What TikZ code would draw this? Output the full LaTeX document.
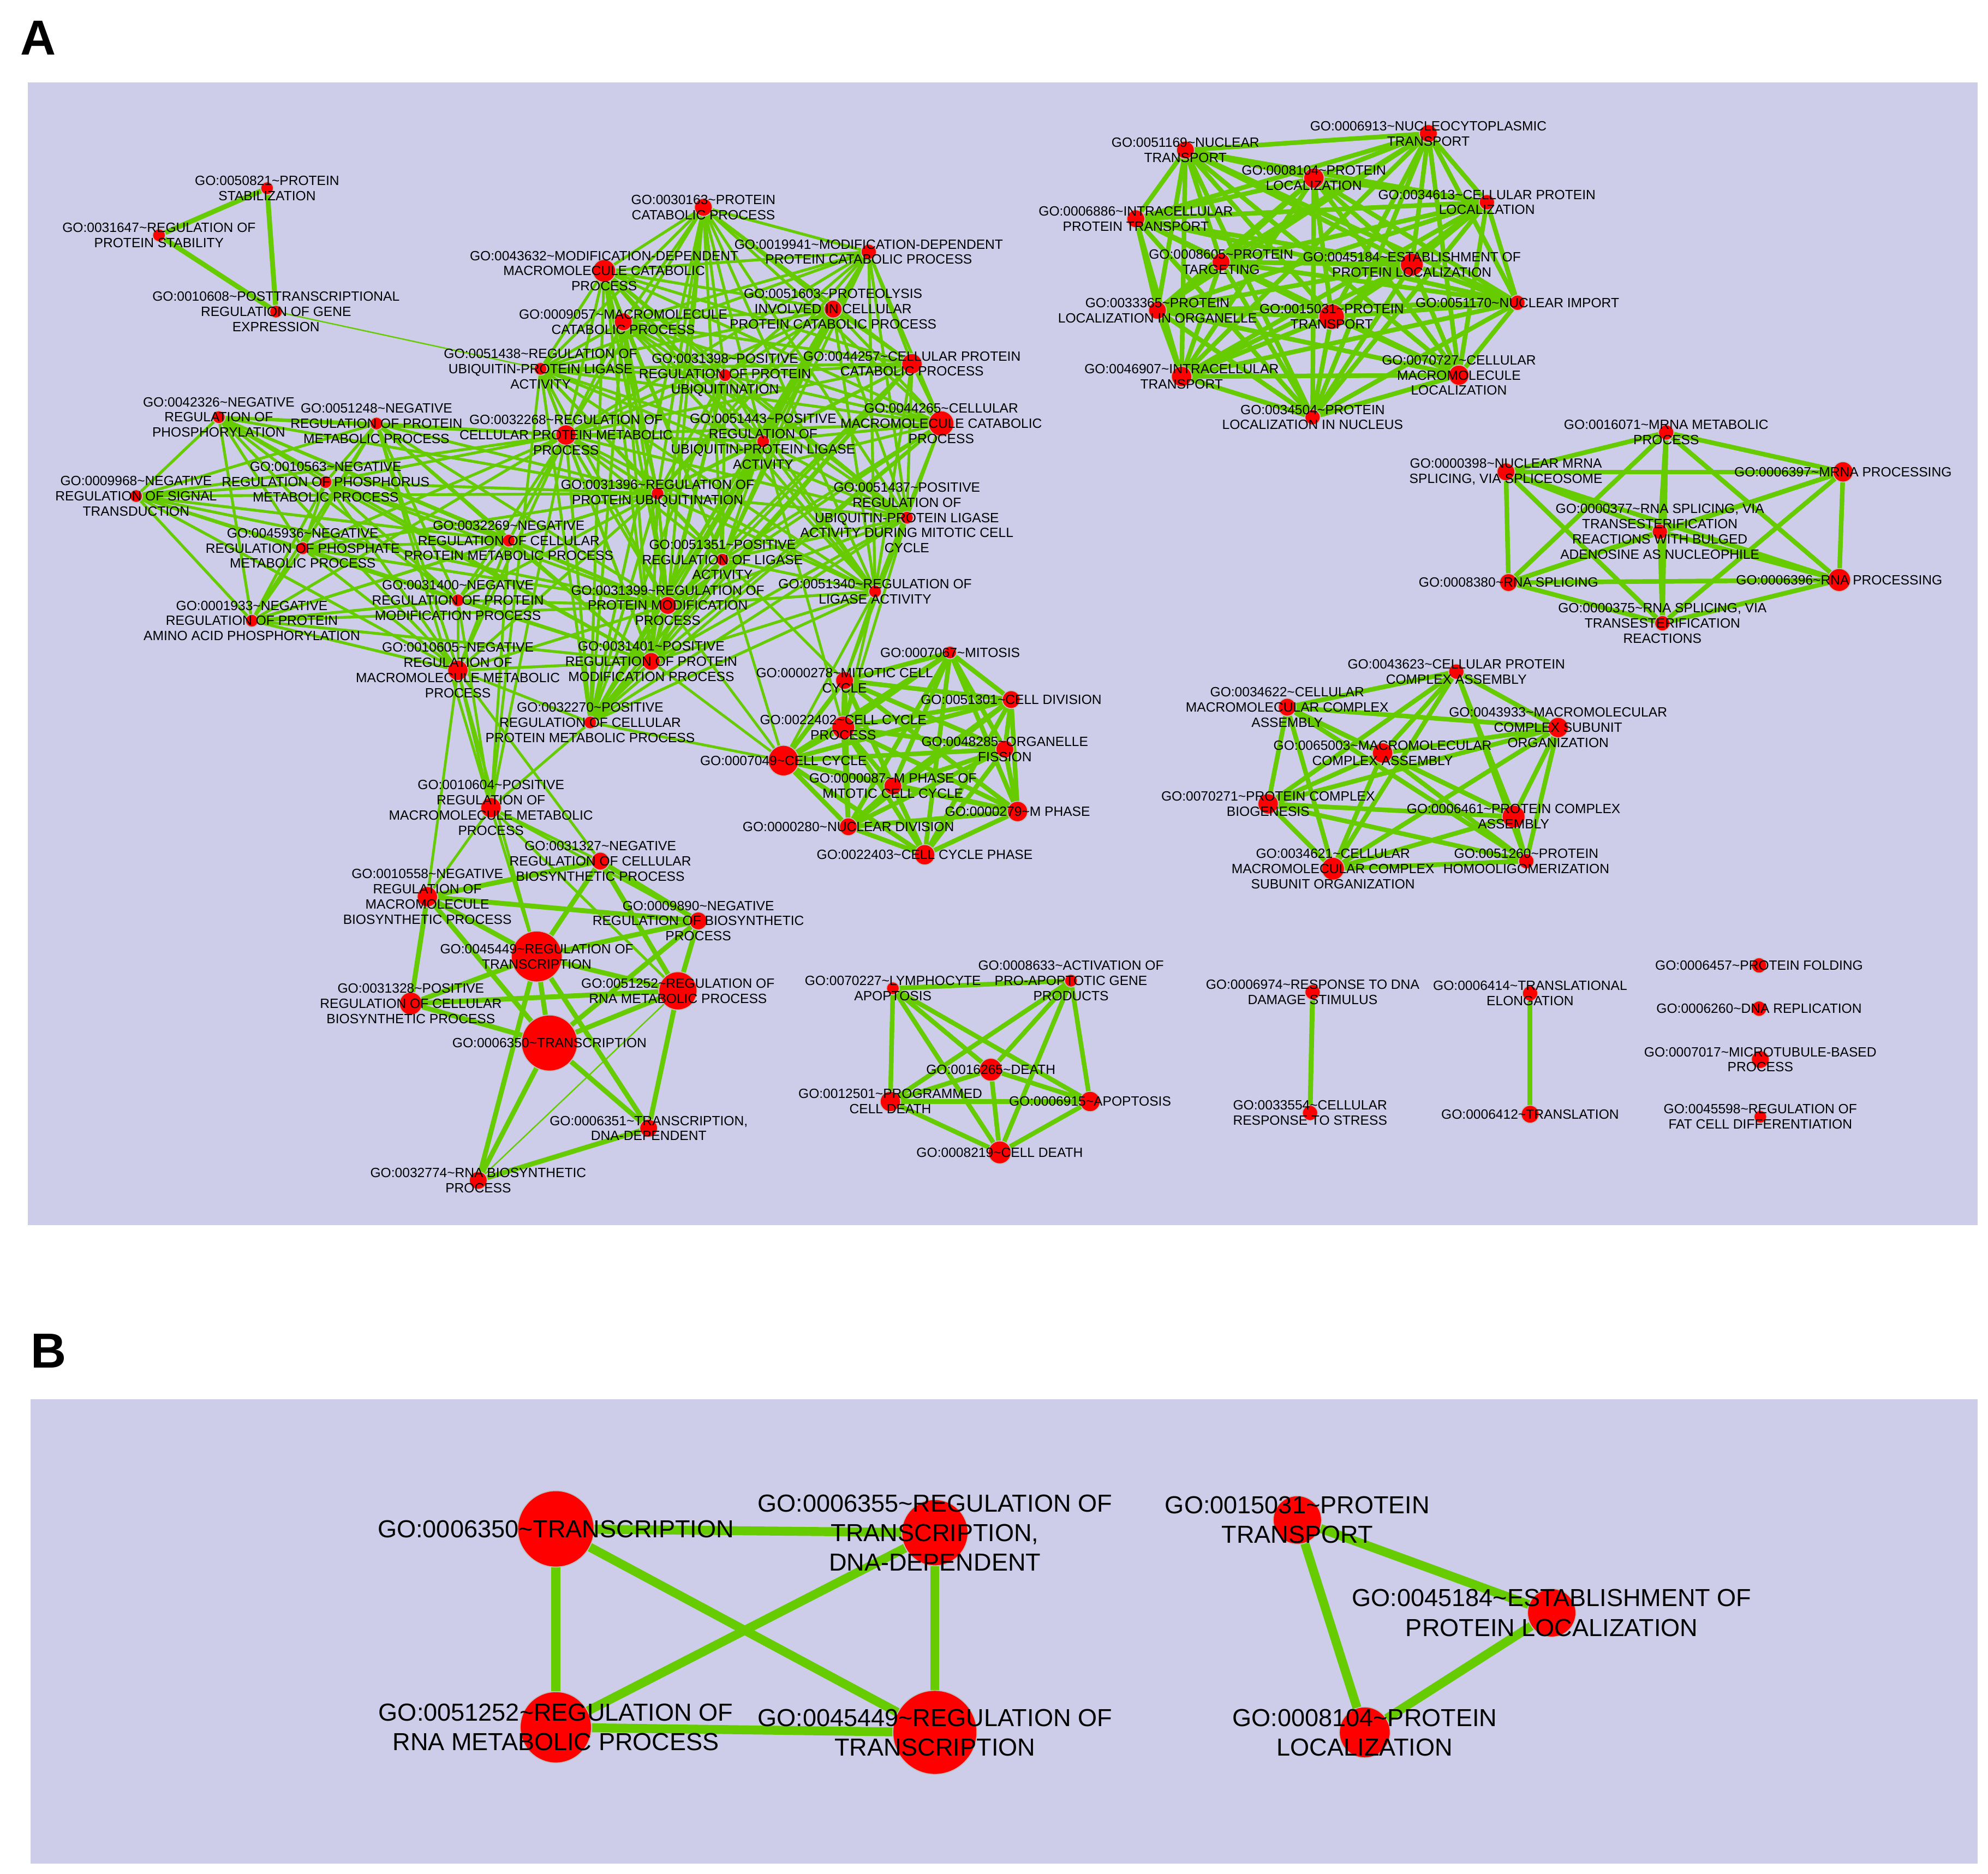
\documentclass[tikz,border=0pt]{standalone}
\usepackage{fontspec}
\setmainfont{Liberation Sans}
\definecolor{panelbg}{RGB}{205,205,234}
\definecolor{edgegreen}{RGB}{102,204,0}
\pgfdeclarelayer{bg}
\pgfdeclarelayer{edges}
\pgfsetlayers{bg,edges,main}
% one GO term: dot plus its centred label
\newcommand\gonode[5][10]{%
  \node[go, minimum size=#1*0.01cm] (#2) at (#3) {};
  \node[lbl] at (#2) {GO:#4\textasciitilde #5};}
\newcommand\gobig[5][56]{%
  \node[go, minimum size=#1*0.01cm] (#2) at (#3) {};
  \node[biglbl] at (#2) {GO:#4\textasciitilde #5};}
\newcommand\clique[1]{%
  \foreach \u in {#1}{\foreach \v in {#1}{\draw[edge] (\u) -- (\v);}}}
\begin{document}
\begin{tikzpicture}[
    x=0.01cm, y=-0.01cm,
    go/.style={circle, fill=red, draw=black!25, line width=0.2pt, inner sep=0pt},
    lbl/.style={font=\fontsize{3.0}{3.4}\selectfont, align=center, inner sep=0pt},
    biglbl/.style={font=\fontsize{5.5}{6.6}\selectfont, align=center, inner sep=0pt},
    edge/.style={draw=edgegreen, line width=0.6pt},
    thin edge/.style={draw=edgegreen, line width=0.3pt},
    bold edge/.style={draw=edgegreen, line width=1.1pt},
    huge edge/.style={draw=edgegreen, line width=2pt},
    panel/.style={fill=panelbg, draw=none},
    letter/.style={font=\bfseries\fontsize{11}{12}\selectfont}
  ]
  \useasboundingbox (0,0) rectangle (1563,1473);
  \begin{pgfonlayer}{bg}
    \fill[white] (0,0) rectangle (1563,1473);
    \path[panel] (22,65) rectangle (1555,963);
    \path[panel] (24,1100) rectangle (1555,1465);
  \end{pgfonlayer}
  \node[letter] (pA) at (30,30) {A};
  \node[letter] (pB) at (38,1062) {B};

  % ---- panel A: stability
  \gonode{a1}{210,148}{0050821}{PROTEIN\\STABILIZATION}
  \gonode{a2}{125,185}{0031647}{REGULATION OF\\PROTEIN STABILITY}
  \gonode{a3}{217,245}{0010608}{POSTTRANSCRIPTIONAL\\REGULATION OF GENE\\EXPRESSION}

  % ---- panel A: main cluster
  \gonode[14]{m1}{553,163}{0030163}{PROTEIN\\CATABOLIC PROCESS}
  \gonode[18]{m2}{475,213}{0043632}{MODIFICATION-DEPENDENT\\MACROMOLECULE CATABOLIC\\PROCESS}
  \gonode[12]{m3}{683,198}{0019941}{MODIFICATION-DEPENDENT\\PROTEIN CATABOLIC PROCESS}
  \gonode[14]{m4}{490,253}{0009057}{MACROMOLECULE\\CATABOLIC PROCESS}
  \gonode[14]{m5}{655,243}{0051603}{PROTEOLYSIS\\INVOLVED IN CELLULAR\\PROTEIN CATABOLIC PROCESS}
  \gonode{m6}{425,290}{0051438}{REGULATION OF\\UBIQUITIN-PROTEIN LIGASE\\ACTIVITY}
  \gonode{m7}{570,295}{0031398}{POSITIVE\\REGULATION OF PROTEIN\\UBIQUITINATION}
  \gonode[16]{m8}{717,286}{0044257}{CELLULAR PROTEIN\\CATABOLIC PROCESS}
  \gonode{m9}{172,328}{0042326}{NEGATIVE\\REGULATION OF\\PHOSPHORYLATION}
  \gonode{m10}{296,333}{0051248}{NEGATIVE\\REGULATION OF PROTEIN\\METABOLIC PROCESS}
  \gonode[16]{m11}{445,342}{0032268}{REGULATION OF\\CELLULAR PROTEIN METABOLIC\\PROCESS}
  \gonode{m12}{600,347}{0051443}{POSITIVE\\REGULATION OF\\UBIQUITIN-PROTEIN LIGASE\\ACTIVITY}
  \gonode[20]{m13}{740,333}{0044265}{CELLULAR\\MACROMOLECULE CATABOLIC\\PROCESS}
  \gonode{m14}{107,390}{0009968}{NEGATIVE\\REGULATION OF SIGNAL\\TRANSDUCTION}
  \gonode{m15}{256,379}{0010563}{NEGATIVE\\REGULATION OF PHOSPHORUS\\METABOLIC PROCESS}
  \gonode{m16}{517,388}{0031396}{REGULATION OF\\PROTEIN UBIQUITINATION}
  \gonode{m17}{713,407}{0051437}{POSITIVE\\REGULATION OF\\UBIQUITIN-PROTEIN LIGASE\\ACTIVITY DURING MITOTIC CELL\\CYCLE}
  \gonode{m18}{238,431}{0045936}{NEGATIVE\\REGULATION OF PHOSPHATE\\METABOLIC PROCESS}
  \gonode{m19}{400,425}{0032269}{NEGATIVE\\REGULATION OF CELLULAR\\PROTEIN METABOLIC PROCESS}
  \gonode{m20}{568,440}{0051351}{POSITIVE\\REGULATION OF LIGASE\\ACTIVITY}
  \gonode{m21}{198,488}{0001933}{NEGATIVE\\REGULATION OF PROTEIN\\AMINO ACID PHOSPHORYLATION}
  \gonode{m22}{360,472}{0031400}{NEGATIVE\\REGULATION OF PROTEIN\\MODIFICATION PROCESS}
  \gonode[14]{m23}{525,476}{0031399}{REGULATION OF\\PROTEIN MODIFICATION\\PROCESS}
  \gonode{m24}{688,465}{0051340}{REGULATION OF\\LIGASE ACTIVITY}
  \gonode[16]{m25}{360,527}{0010605}{NEGATIVE\\REGULATION OF\\MACROMOLECULE METABOLIC\\PROCESS}
  \gonode[14]{m26}{512,520}{0031401}{POSITIVE\\REGULATION OF PROTEIN\\MODIFICATION PROCESS}
  \gonode{m27}{464,568}{0032270}{POSITIVE\\REGULATION OF CELLULAR\\PROTEIN METABOLIC PROCESS}
  \gonode[16]{m28}{386,635}{0010604}{POSITIVE\\REGULATION OF\\MACROMOLECULE METABOLIC\\PROCESS}

  % ---- panel A: transcription
  \gonode[14]{t1}{472,677}{0031327}{NEGATIVE\\REGULATION OF CELLULAR\\BIOSYNTHETIC PROCESS}
  \gonode[16]{t2}{336,705}{0010558}{NEGATIVE\\REGULATION OF\\MACROMOLECULE\\BIOSYNTHETIC PROCESS}
  \gonode[14]{t3}{549,724}{0009890}{NEGATIVE\\REGULATION OF BIOSYNTHETIC\\PROCESS}
  \gonode[40]{t4}{422,752}{0045449}{REGULATION OF\\TRANSCRIPTION}
  \gonode[18]{t5}{323,789}{0031328}{POSITIVE\\REGULATION OF CELLULAR\\BIOSYNTHETIC PROCESS}
  \gonode[30]{t6}{533,779}{0051252}{REGULATION OF\\RNA METABOLIC PROCESS}
  \gonode[44]{t7}{432,820}{0006350}{TRANSCRIPTION}
  \gonode[14]{t8}{510,887}{0006351}{TRANSCRIPTION,\\DNA-DEPENDENT}
  \gonode[14]{t9}{376,928}{0032774}{RNA BIOSYNTHETIC\\PROCESS}

  % ---- panel A: cell cycle
  \gonode{c1}{747,513}{0007067}{MITOSIS}
  \gonode[14]{c2}{664,535}{0000278}{MITOTIC CELL\\CYCLE}
  \gonode[14]{c3}{795,550}{0051301}{CELL DIVISION}
  \gonode[18]{c4}{663,572}{0022402}{CELL CYCLE\\PROCESS}
  \gonode[14]{c5}{790,589}{0048285}{ORGANELLE\\FISSION}
  \gonode[24]{c6}{616,598}{0007049}{CELL CYCLE}
  \gonode[14]{c7}{702,618}{0000087}{M PHASE OF\\MITOTIC CELL CYCLE}
  \gonode[16]{c8}{800,638}{0000279}{M PHASE}
  \gonode[14]{c9}{667,650}{0000280}{NUCLEAR DIVISION}
  \gonode[16]{c10}{727,672}{0022403}{CELL CYCLE PHASE}

  % ---- panel A: death
  \gonode{p1}{702,777}{0070227}{LYMPHOCYTE\\APOPTOSIS}
  \gonode{p2}{842,771}{0008633}{ACTIVATION OF\\PRO-APOPTOTIC GENE\\PRODUCTS}
  \gonode[18]{p3}{779,841}{0016265}{DEATH}
  \gonode[16]{p4}{700,866}{0012501}{PROGRAMMED\\CELL DEATH}
  \gonode[16]{p5}{857,866}{0006915}{APOPTOSIS}
  \gonode[18]{p6}{786,906}{0008219}{CELL DEATH}

  % ---- panel A: small groups
  \gonode[12]{d1}{1032,780}{0006974}{RESPONSE TO DNA\\DAMAGE STIMULUS}
  \gonode[12]{d2}{1030,875}{0033554}{CELLULAR\\RESPONSE TO STRESS}
  \gonode[12]{e1}{1203,781}{0006414}{TRANSLATIONAL\\ELONGATION}
  \gonode[14]{e2}{1203,876}{0006412}{TRANSLATION}
  \gonode[12]{s1}{1383,759}{0006457}{PROTEIN FOLDING}
  \gonode[12]{s2}{1383,793}{0006260}{DNA REPLICATION}
  \gonode[14]{s3}{1384,833}{0007017}{MICROTUBULE-BASED\\PROCESS}
  \gonode{s4}{1384,878}{0045598}{REGULATION OF\\FAT CELL DIFFERENTIATION}

  % ---- panel A: protein transport
  \gonode[14]{n1}{932,118}{0051169}{NUCLEAR\\TRANSPORT}
  \gonode[14]{n2}{1123,105}{0006913}{NUCLEOCYTOPLASMIC\\TRANSPORT}
  \gonode[16]{n3}{1033,140}{0008104}{PROTEIN\\LOCALIZATION}
  \gonode[12]{n4}{1169,159}{0034613}{CELLULAR PROTEIN\\LOCALIZATION}
  \gonode[14]{n5}{893,172}{0006886}{INTRACELLULAR\\PROTEIN TRANSPORT}
  \gonode[14]{n6}{960,206}{0008605}{PROTEIN\\TARGETING}
  \gonode[18]{n7}{1110,208}{0045184}{ESTABLISHMENT OF\\PROTEIN LOCALIZATION}
  \gonode[14]{n8}{910,244}{0033365}{PROTEIN\\LOCALIZATION IN ORGANELLE}
  \gonode[20]{n9}{1047,249}{0015031}{PROTEIN\\TRANSPORT}
  \gonode[12]{n10}{1193,238}{0051170}{NUCLEAR IMPORT}
  \gonode[16]{n11}{929,296}{0046907}{INTRACELLULAR\\TRANSPORT}
  \gonode[16]{n12}{1147,295}{0070727}{CELLULAR\\MACROMOLECULE\\LOCALIZATION}
  \gonode[12]{n13}{1032,328}{0034504}{PROTEIN\\LOCALIZATION IN NUCLEUS}

  % ---- panel A: RNA processing
  \gonode[12]{r1}{1310,340}{0016071}{MRNA METABOLIC\\PROCESS}
  \gonode[14]{r2}{1184,371}{0000398}{NUCLEAR MRNA\\SPLICING, VIA SPLICEOSOME}
  \gonode[16]{r3}{1449,371}{0006397}{MRNA PROCESSING}
  \gonode[12]{r4}{1305,418}{0000377}{RNA SPLICING, VIA\\TRANSESTERIFICATION\\REACTIONS WITH BULGED\\ADENOSINE AS NUCLEOPHILE}
  \gonode[14]{r5}{1186,458}{0008380}{RNA SPLICING}
  \gonode[18]{r6}{1446,456}{0006396}{RNA PROCESSING}
  \gonode[12]{r7}{1307,490}{0000375}{RNA SPLICING, VIA\\TRANSESTERIFICATION\\REACTIONS}

  % ---- panel A: complexes
  \gonode[12]{x1}{1145,528}{0043623}{CELLULAR PROTEIN\\COMPLEX ASSEMBLY}
  \gonode[14]{x2}{1012,556}{0034622}{CELLULAR\\MACROMOLECULAR COMPLEX\\ASSEMBLY}
  \gonode[16]{x3}{1225,572}{0043933}{MACROMOLECULAR\\COMPLEX SUBUNIT\\ORGANIZATION}
  \gonode[16]{x4}{1087,592}{0065003}{MACROMOLECULAR\\COMPLEX ASSEMBLY}
  \gonode[16]{x5}{997,632}{0070271}{PROTEIN COMPLEX\\BIOGENESIS}
  \gonode[18]{x6}{1190,642}{0006461}{PROTEIN COMPLEX\\ASSEMBLY}
  \gonode[18]{x7}{1048,683}{0034621}{CELLULAR\\MACROMOLECULAR COMPLEX\\SUBUNIT ORGANIZATION}
  \gonode[12]{x8}{1200,677}{0051260}{PROTEIN\\HOMOOLIGOMERIZATION}

  % ---- panel B
  \gobig[60]{b1}{437,1202}{0006350}{TRANSCRIPTION}
  \gobig[52]{b2}{735,1205}{0006355}{REGULATION OF\\TRANSCRIPTION,\\DNA-DEPENDENT}
  \gobig[56]{b3}{437,1358}{0051252}{REGULATION OF\\RNA METABOLIC PROCESS}
  \gobig[66]{b4}{735,1362}{0045449}{REGULATION OF\\TRANSCRIPTION}
  \gobig[38]{b5}{1020,1195}{0015031}{PROTEIN\\TRANSPORT}
  \gobig[38]{b6}{1220,1268}{0045184}{ESTABLISHMENT OF\\PROTEIN LOCALIZATION}
  \gobig[40]{b7}{1073,1362}{0008104}{PROTEIN\\LOCALIZATION}

  \begin{pgfonlayer}{edges}
    \foreach \u/\v in {a1/a2, a1/a3, a2/a3}
      \draw[bold edge] (\u) -- (\v);
    \draw[thin edge] (a3) -- (m6);
    \clique{m1,m2,m3,m4,m5,m6,m7,m8,m11,m12,m13,m16,m17,m20,m23,m24,m26,m27}
    \clique{m9,m10,m14,m15,m18,m19,m21,m22,m25,m11,m23,m26,m16}
    \foreach \u/\v in {m28/t1, m28/t2, m28/t4, m28/t3, m28/t6, m25/m28,
        m25/t2, m25/t4, m27/m28, m28/m19, m28/m11, m25/t1, m28/m22,
        m27/m25, m10/m28, m6/m28}
      \draw[edge] (\u) -- (\v);
    \foreach \u/\v in {t1/t2, t1/t3, t1/t4, t1/t6, t2/t3, t2/t4, t2/t5,
        t2/t7, t3/t4, t3/t6, t3/t7, t4/t5, t4/t6, t4/t7, t4/t8, t5/t6,
        t5/t7, t6/t7, t6/t8, t7/t8, t7/t9, t8/t9, t4/t9}
      \draw[bold edge] (\u) -- (\v);
    \draw[thin edge] (t6) -- (t9);
    \foreach \u/\v in {m24/c2, m24/c4, m24/c6, m17/c2, m17/c4, m20/c6,
        m12/c4, m27/c6, m26/c6, m16/c2, m23/c6}
      \draw[edge] (\u) -- (\v);
    \begin{scope}[edge/.style={draw=edgegreen, line width=1pt}]
      \clique{c1,c2,c3,c4,c5,c6,c7,c8,c9,c10}
      \clique{n1,n2,n3,n4,n5,n6,n7,n8,n9,n10,n11,n12,n13}
      \clique{r1,r2,r3,r4,r5,r6,r7}
      \clique{x1,x2,x3,x4,x5,x6,x7,x8}
      \clique{p1,p2,p3,p4,p5,p6}
    \end{scope}
    \draw[bold edge] (d1) -- (d2);
    \draw[bold edge] (e1) -- (e2);
    \foreach \u/\v in {b1/b2, b1/b3, b1/b4, b2/b3, b2/b4, b3/b4, b5/b6, b5/b7, b6/b7}
      \draw[huge edge] (\u) -- (\v);
  \end{pgfonlayer}
\end{tikzpicture}
\end{document}
